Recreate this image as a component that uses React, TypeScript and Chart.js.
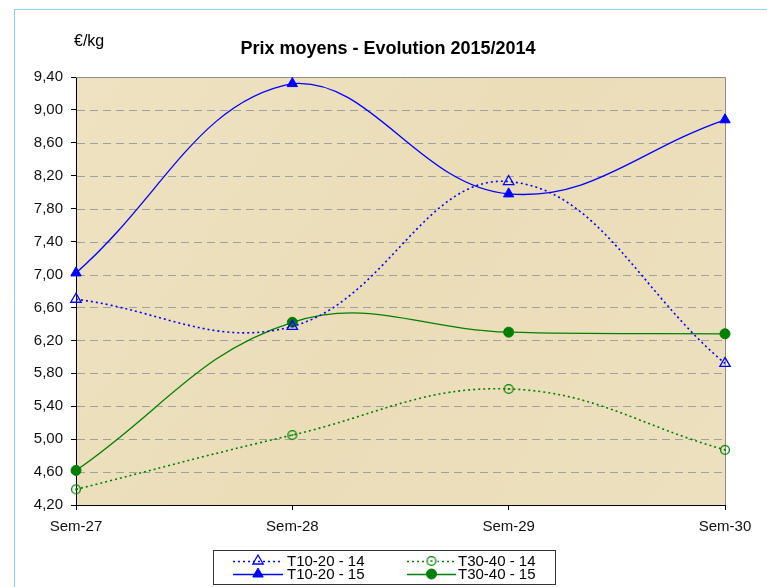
import React, { useEffect, useRef } from 'react';
import { Chart, registerables } from 'chart.js';
import { drawPoint } from 'chart.js/helpers';
Chart.register(...registerables);

const categories = ['Sem-27', 'Sem-28', 'Sem-29', 'Sem-30'];
const t1020_14 = [6.70, 6.37, 8.13, 5.92];
const t3040_14 = [4.39, 5.05, 5.61, 4.87];
const t1020_15 = [7.02, 9.32, 7.98, 8.88];
const t3040_15 = [4.62, 6.42, 6.30, 6.28];
const seriesLabels = ['T10-20 - 14', 'T30-40 - 14', 'T10-20 - 15', 'T30-40 - 15'];
const yTicks = [4.2, 4.6, 5.0, 5.4, 5.8, 6.2, 6.6, 7.0, 7.4, 7.8, 8.2, 8.6, 9.0, 9.4];
const titleText = 'Prix moyens - Evolution 2015/2014';
const unitText = '€/kg';

const FONT = "'Liberation Sans', Arial, sans-serif";
const BLUE = '#0000FF';
const GREEN = '#008000';

function makeOpenCircle(color: string) {
  const c = document.createElement('canvas');
  c.width = 12;
  c.height = 12;
  const g = c.getContext('2d')!;
  g.strokeStyle = color;
  g.lineWidth = 1.3;
  g.beginPath();
  g.arc(6, 6, 4.4, 0, Math.PI * 2);
  g.stroke();
  g.fillStyle = color;
  g.beginPath();
  g.arc(6, 6, 1, 0, Math.PI * 2);
  g.fill();
  return c;
}

const decorPlugin = {
  id: 'decor',
  beforeDraw(chart: any) {
    const { ctx, chartArea: a } = chart;
    ctx.save();
    // outer frame (light blue)
    ctx.strokeStyle = '#8FCFEF';
    ctx.lineWidth = 1;
    ctx.beginPath();
    ctx.moveTo(14.5, 587);
    ctx.lineTo(14.5, 9.5);
    ctx.lineTo(767, 9.5);
    ctx.stroke();
    // plot background (parchment tone)
    const grad = ctx.createLinearGradient(a.left, a.top, a.right, a.bottom);
    grad.addColorStop(0, '#EEE2C2');
    grad.addColorStop(0.5, '#EBDDB8');
    grad.addColorStop(1, '#EDE0BF');
    ctx.fillStyle = grad;
    ctx.fillRect(a.left, a.top, a.right - a.left, a.bottom - a.top);
    ctx.restore();
  },
  beforeDatasetsDraw(chart: any) {
    const { ctx, chartArea: a, scales } = chart;
    const y = scales.y;
    ctx.save();
    ctx.strokeStyle = '#A0A0A0';
    ctx.lineWidth = 1;
    ctx.setLineDash([8, 5]);
    yTicks.forEach((v) => {
      if (v <= 4.2 || v >= 9.4) return;
      const py = Math.round(y.getPixelForValue(v)) + 0.5;
      ctx.beginPath();
      ctx.moveTo(a.left + 1, py);
      ctx.lineTo(a.right, py);
      ctx.stroke();
    });
    ctx.setLineDash([]);
    ctx.strokeStyle = '#8C8C8C';
    ctx.beginPath();
    ctx.moveTo(a.left, Math.round(a.top) + 0.5);
    ctx.lineTo(Math.round(a.right) + 0.5, Math.round(a.top) + 0.5);
    ctx.lineTo(Math.round(a.right) + 0.5, a.bottom);
    ctx.stroke();
    ctx.restore();
  },
  afterDraw(chart: any) {
    const { ctx } = chart;
    ctx.save();
    // title
    ctx.fillStyle = '#000';
    ctx.font = `bold 18px ${FONT}`;
    ctx.textAlign = 'center';
    ctx.textBaseline = 'middle';
    ctx.fillText(titleText, 388, 49);
    ctx.font = `16px ${FONT}`;
    ctx.textAlign = 'left';
    ctx.fillText(unitText, 74, 42);

    // legend
    ctx.fillStyle = '#FFFFFF';
    ctx.fillRect(213.5, 550.5, 342, 34);
    ctx.strokeStyle = '#333';
    ctx.lineWidth = 1;
    ctx.strokeRect(213.5, 550.5, 342, 34);
    const cols = [
      { x0: 233, x1: 283, tx: 287 },
      { x0: 407, x1: 456, tx: 458 },
    ];
    const rows = [561, 574];
    chart.data.datasets.forEach((ds: any, i: number) => {
      const c = cols[i % 2];
      const ry = rows[Math.floor(i / 2)];
      ctx.save();
      ctx.strokeStyle = ds.borderColor;
      ctx.lineWidth = ds.borderWidth;
      ctx.setLineDash(ds.borderDash || []);
      ctx.beginPath();
      ctx.moveTo(c.x0, ry + 0.5);
      ctx.lineTo(c.x1, ry + 0.5);
      ctx.stroke();
      ctx.setLineDash([]);
      ctx.fillStyle = ds.pointBackgroundColor;
      ctx.strokeStyle = ds.pointBorderColor;
      ctx.lineWidth = ds.pointBorderWidth;
      const mx = (c.x0 + c.x1) / 2;
      if (typeof ds.pointStyle !== 'string') {
        ctx.fillStyle = '#FFFFFF';
        ctx.fillRect(mx - 6, ry - 6, 12, 12);
      }
      drawPoint(ctx, { pointStyle: ds.pointStyle, radius: ds.pointRadius, borderWidth: ds.pointBorderWidth, rotation: 0 }, mx, ry);
      ctx.restore();
      ctx.fillStyle = '#000';
      ctx.font = `15px ${FONT}`;
      ctx.textAlign = 'left';
      ctx.textBaseline = 'middle';
      ctx.fillText(ds.label, c.tx, ry + 1);
    });
    ctx.restore();
  },
};

export default function App() {
  const ref = useRef<HTMLCanvasElement>(null);
  useEffect(() => {
    const openCircle = makeOpenCircle(GREEN);
    const chart = new Chart(ref.current!, {
      type: 'line',
      data: {
        labels: categories,
        datasets: [
          {
            label: seriesLabels[0],
            data: t1020_14,
            borderColor: BLUE,
            borderWidth: 1.6,
            borderDash: [2, 3],
            pointStyle: 'triangle',
            pointRadius: 6,
            pointBorderWidth: 1.3,
            pointBorderColor: BLUE,
            pointBackgroundColor: 'rgba(0,0,0,0)',
            tension: 0.4,
          },
          {
            label: seriesLabels[1],
            data: t3040_14,
            borderColor: GREEN,
            borderWidth: 1.6,
            borderDash: [2, 3],
            pointStyle: openCircle as any,
            pointRadius: 5,
            pointBorderWidth: 1.3,
            pointBorderColor: GREEN,
            pointBackgroundColor: 'rgba(0,0,0,0)',
            tension: 0.4,
          },
          {
            label: seriesLabels[2],
            data: t1020_15,
            borderColor: BLUE,
            borderWidth: 1.3,
            pointStyle: 'triangle',
            pointRadius: 6,
            pointBorderWidth: 1,
            pointBorderColor: BLUE,
            pointBackgroundColor: BLUE,
            tension: 0.4,
          },
          {
            label: seriesLabels[3],
            data: t3040_15,
            borderColor: GREEN,
            borderWidth: 1.3,
            pointStyle: 'circle',
            pointRadius: 5,
            pointBorderWidth: 1,
            pointBorderColor: GREEN,
            pointBackgroundColor: GREEN,
            tension: 0.4,
          },
        ],
      },
      options: {
        responsive: false,
        animation: false,
        devicePixelRatio: 1,
        layout: { padding: { left: 0, top: 77, right: 42, bottom: 52 } },
        plugins: {
          legend: { display: false },
          title: { display: false },
          tooltip: { enabled: false },
        },
        scales: {
          x: {
            type: 'category',
            offset: false,
            grid: {
              drawOnChartArea: false,
              drawTicks: true,
              tickLength: 5,
              tickColor: '#000',
              color: '#000',
            },
            border: { color: '#000', width: 1 },
            ticks: {
              color: '#111',
              font: { family: FONT, size: 15 },
              padding: 8,
              maxRotation: 0,
              autoSkip: false,
            },
            afterFit(scale: any) {
              scale.height = 30;
            },
          },
          y: {
            type: 'linear',
            min: 4.2,
            max: 9.4,
            afterBuildTicks(scale: any) {
              scale.ticks = yTicks.map((v) => ({ value: v }));
            },
            grid: {
              drawOnChartArea: false,
              drawTicks: true,
              tickLength: 5,
              tickColor: '#000',
              color: '#000',
            },
            border: { color: '#000', width: 1 },
            ticks: {
              color: '#111',
              font: { family: FONT, size: 15 },
              padding: 8,
              callback: (v: any) => Number(v).toFixed(2).replace('.', ','),
            },
            afterFit(scale: any) {
              scale.width = 76;
            },
          },
        },
      },
      plugins: [decorPlugin],
    });
    return () => chart.destroy();
  }, []);
  return (
    <div style={{ position: 'absolute', left: 0, top: 0, width: 767, height: 587, background: '#fff' }}>
      <canvas ref={ref} width={767} height={587} style={{ display: 'block' }} />
    </div>
  );
}
